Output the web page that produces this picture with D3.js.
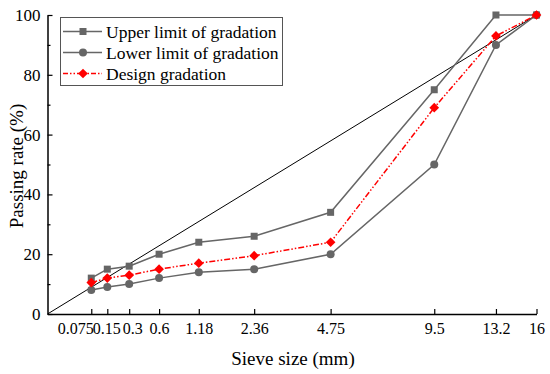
<!DOCTYPE html>
<html><head><meta charset="utf-8">
<script src="https://cdn.jsdelivr.net/npm/d3@7"></script>
<style>body{margin:0;background:#fff}svg{display:block}</style>
</head><body><svg id="c" width="550" height="374"></svg>
<script>
const sieves = [0.075, 0.15, 0.3, 0.6, 1.18, 2.36, 4.75, 9.5, 13.2, 16];
const tickLabels = ["0.075", "0.15", "0.3", "0.6", "1.18", "2.36", "4.75", "9.5", "13.2", "16"];
const upperLimit = [12, 15, 16, 20, 24, 26, 34, 75, 100, 100];
const lowerLimit = [8, 9, 10, 12, 14, 15, 20, 50, 90, 100];
const designGradation = [10.5, 12, 13, 15, 17, 19.5, 24, 69, 93, 100];
const maxDensity = [[0, 0], [16, 100]];
const yTicks = [0, 20, 40, 60, 80, 100];
const yMinor = [10, 30, 50, 70, 90];

const FONT = "'Liberation Serif', 'Times New Roman', Times, serif";
const svg = d3.select("#c");
const x = d3.scalePow().exponent(0.45).domain([0, 16]).range([47.5, 536.5]);
const y = d3.scaleLinear().domain([0, 100]).range([314, 15]);

// axes
const gx = svg.append("g").attr("transform", `translate(0,${y(0)})`)
  .call(d3.axisBottom(x).tickValues(sieves).tickFormat((d,i)=>tickLabels[i]).tickSizeInner(-5).tickSizeOuter(0).tickPadding(9));
svg.append("g").attr("transform", `translate(${x(0)},0)`)
  .call(d3.axisLeft(y).tickValues(yTicks).tickSizeInner(-5).tickSizeOuter(0).tickPadding(7));
svg.append("g").attr("transform", `translate(${x(0)},0)`)
  .call(d3.axisLeft(y).tickValues(yMinor).tickFormat("").tickSizeInner(-3).tickSizeOuter(0))
  .select(".domain").remove();
svg.selectAll(".domain").attr("stroke","#000").attr("stroke-width",1.5);
svg.selectAll(".tick line").attr("stroke","#000").attr("stroke-width",1.2);
svg.selectAll(".tick text").attr("font-family",null).attr("font-size",null)
  .style("font-family",FONT).style("font-size","17px").style("fill","#000");
const labelShift = [2, -1, 3, 0, 0, 0, 0, 0, 0, 0];
gx.selectAll(".tick text").style("font-size","16px")
  .attr("text-anchor",(d,i)=> i===0 ? "end" : "middle")
  .attr("x",(d,i)=> labelShift[i]);

// max density line
svg.append("path").datum(maxDensity)
  .attr("d", d3.line().x(d=>x(d[0])).y(d=>y(d[1])))
  .attr("fill","none").attr("stroke","#000").attr("stroke-width",1);

const line = d3.line().x((d,i)=>x(sieves[i])).y(d=>y(d));
const gray = "#666666";
// upper
svg.append("path").datum(upperLimit).attr("d", line).attr("fill","none").attr("stroke",gray).attr("stroke-width",1.5);
svg.selectAll(".sq").data(upperLimit).enter().append("rect")
  .attr("x",(d,i)=>x(sieves[i])-3.5).attr("y",d=>y(d)-3.5).attr("width",7).attr("height",7).attr("fill",gray);
// lower
svg.append("path").datum(lowerLimit).attr("d", line).attr("fill","none").attr("stroke",gray).attr("stroke-width",1.5);
svg.selectAll(".ci").data(lowerLimit).enter().append("circle")
  .attr("cx",(d,i)=>x(sieves[i])).attr("cy",d=>y(d)).attr("r",4).attr("fill",gray);
// design
svg.append("path").datum(designGradation).attr("d", line).attr("fill","none").attr("stroke","#ff0000").attr("stroke-width",1.5).attr("stroke-dasharray","6,2,1.5,2,1.5,2");
const diamond = d3.symbol().type(d3.symbolDiamond2).size(60);
svg.selectAll(".di").data(designGradation).enter().append("path")
  .attr("d", diamond).attr("transform",(d,i)=>`translate(${x(sieves[i])},${y(d)})`).attr("fill","#ff0000");

// axis titles
svg.append("text").attr("x", 293).attr("y", 365).attr("text-anchor","middle")
  .style("font-family",FONT).style("font-size","19px").text("Sieve size (mm)");
svg.append("text").attr("transform","translate(23,166) rotate(-90)").attr("text-anchor","middle")
  .style("font-family",FONT).style("font-size","19px").text("Passing rate (%)");

// legend
const lg = svg.append("g");
lg.append("rect").attr("x",60.5).attr("y",17.5).attr("width",222).attr("height",68).attr("fill","#fff").attr("stroke","#555").attr("stroke-width",1);
const items = [
  {label:"Upper limit of gradation", color:gray, dash:null, sym:"sq"},
  {label:"Lower limit of gradation", color:gray, dash:null, sym:"ci"},
  {label:"Design gradation", color:"#ff0000", dash:"5,2,1.5,2,1.5,2", sym:"di"}
];
items.forEach((it,i)=>{
  const cy = 31.5 + i*21;
  lg.append("line").attr("x1",63).attr("x2",102).attr("y1",cy).attr("y2",cy).attr("stroke",it.color).attr("stroke-width",1.5).attr("stroke-dasharray",it.dash);
  if(it.sym==="sq") lg.append("rect").attr("x",79.5).attr("y",cy-3.5).attr("width",7).attr("height",7).attr("fill",it.color);
  if(it.sym==="ci") lg.append("circle").attr("cx",83).attr("cy",cy).attr("r",4).attr("fill",it.color);
  if(it.sym==="di") lg.append("path").attr("d",diamond).attr("transform",`translate(83,${cy})`).attr("fill",it.color);
  lg.append("text").attr("x",106).attr("y",cy+6).style("font-family",FONT).style("font-size","17.5px").style("fill","#000").text(it.label);
});
</script></body></html>
